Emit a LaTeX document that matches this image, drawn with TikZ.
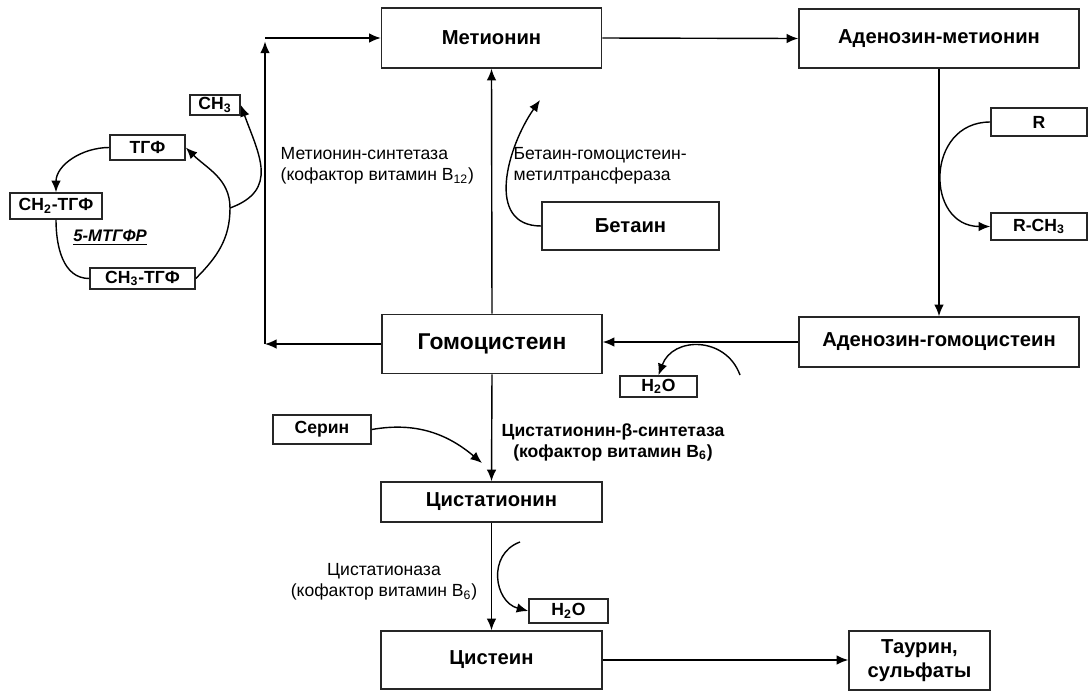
\documentclass[tikz,border=0pt]{standalone}
\usepackage{fontspec}
\setmainfont{Liberation Sans}
\usetikzlibrary{arrows.meta}

\begin{document}
\begin{tikzpicture}[
    line width=0.8pt,
    box/.style={rectangle, draw=black!85, line width=0.9pt, inner sep=0, align=center,
                font=\bfseries\fontsize{11.5}{13.5}\selectfont},
    smallbox/.style={rectangle, draw=black!85, line width=0.9pt, inner sep=0,
                font=\bfseries\fontsize{10}{11}\selectfont},
    enzyme/.style={align=left, inner sep=0, font=\fontsize{10}{12}\selectfont},
    arr/.style={-{Latex[length=2.3mm, width=1.9mm]}}
]
\useasboundingbox (0,0) rectangle (21.82,-13.82);

% ============================================
% CADENA PRINCIPAL
% ============================================
\node[box, minimum width=4.4cm, minimum height=1.2cm] (met) at (9.83,-0.76) {Метионин};
\node[box, minimum width=5.6cm, minimum height=1.18cm] (adomet) at (18.78,-0.77) {Аденозин-метионин};
\node[box, minimum width=5.6cm, minimum height=1.0cm] (adohcy) at (18.78,-6.84) {Аденозин-гомоцистеин};
\node[box, minimum width=4.4cm, minimum height=1.18cm, font=\bfseries\fontsize{13}{15}\selectfont]
    (homo) at (9.84,-6.88) {Гомоцистеин};
\node[box, minimum width=4.42cm, minimum height=0.8cm] (cysta) at (9.83,-10.04) {Цистатионин};
\node[box, minimum width=4.42cm, minimum height=1.16cm] (cys) at (9.83,-13.2) {Цистеин};
\node[box, minimum width=2.82cm, minimum height=1.18cm] (taur) at (18.39,-13.21) {Таурин,\\сульфаты};

% Sustratos laterales
\node[box, minimum width=3.54cm, minimum height=0.96cm] (bet) at (12.61,-4.52) {Бетаин};
\node[smallbox, minimum width=1.92cm, minimum height=0.56cm] (r) at (20.78,-2.44) {R};
\node[smallbox, minimum width=1.92cm, minimum height=0.54cm] (rch3) at (20.78,-4.53) {R-CH\textsubscript{3}};
\node[smallbox, minimum width=1.54cm, minimum height=0.42cm] (wata) at (13.17,-7.73) {H\textsubscript{2}O};
\node[smallbox, minimum width=1.96cm, minimum height=0.58cm] (ser) at (6.44,-8.59) {Серин};
\node[smallbox, minimum width=1.58cm, minimum height=0.48cm] (watb) at (11.37,-12.22) {H\textsubscript{2}O};

% ============================================
% CICLO DEL FOLATO
% ============================================
\node[smallbox, minimum width=1.0cm, minimum height=0.4cm] (ch3) at (4.3,-2.1) {CH\textsubscript{3}};
\node[smallbox, minimum width=1.5cm, minimum height=0.5cm] (thf) at (2.95,-2.95) {ТГФ};
\node[smallbox, minimum width=1.84cm, minimum height=0.52cm] (ch2thf) at (1.12,-4.12) {CH\textsubscript{2}-ТГФ};
\node[smallbox, minimum width=2.1cm, minimum height=0.42cm] (ch3thf) at (2.85,-5.57) {CH\textsubscript{3}-ТГФ};
\node[font=\bfseries\itshape\fontsize{9.5}{10}\selectfont] (mtgfr) at (2.2,-4.76) {\underline{5-МТГФР}};

\coordinate (cyc) at (4.6,-4.16);
\coordinate (lt) at (5.3,-0.76);
\coordinate (lb) at (5.3,-6.88);

\draw (ch3thf.east) to[out=45, in=-90] (cyc);
\draw[arr] (cyc) to[out=90, in=-45] (thf.east);
\draw[arr] (thf.west) to[out=180, in=90] (ch2thf.north);
\draw (ch2thf.south) to[out=-90, in=180] (ch3thf.west);
\draw[arr] (cyc) to[out=20, in=-70, looseness=1.3] (ch3.east);

% ============================================
% FLECHAS
% ============================================
\draw[arr] (homo.west) -- (lb);
\draw[arr] (lb) -- ([yshift=-2pt]lt);
\draw[arr] (lt) -- (met.west);
\draw[arr] (homo.north) -- (met.south);
\draw[arr] (met.east) -- (adomet.west);
\draw[arr] (adomet.south) -- (adohcy.north);
\draw[arr] (adohcy.west) -- (adohcy.west -| homo.east);
\draw[arr] (homo.south) -- (cysta.north);
\draw[arr] (cysta.south) -- (cys.north);
\draw[arr] (cys.east) -- (cys.east -| taur.west);

% Flechas curvas
\coordinate (betend) at (10.8,-2.0);
\draw[arr] (bet.west) to[out=180, in=-125, looseness=1.15] (betend);
\draw[arr] (r.west) to[out=180, in=180, looseness=1.6] (rch3.west);
\coordinate (watastart) at (14.8,-7.5);
\draw[arr] (watastart) to[out=110, in=70, looseness=1.3] (wata.north);
\coordinate (serend) at (9.64,-9.26);
\draw[arr] (ser.east) to[out=10, in=140] (serend);
\coordinate (watbstart) at (10.4,-10.84);
\draw[arr] (watbstart) to[out=200, in=165, looseness=1.3] (watb.west);

% ============================================
% ENZIMAS
% ============================================
\node[enzyme, anchor=west] (ms) at (5.6,-3.32) {Метионин-синтетаза\\(кофактор витамин B\textsubscript{12})};
\node[enzyme, anchor=west] (bhmt) at (10.26,-3.32) {Бетаин-гомоцистеин-\\метилтрансфераза};
\node[enzyme, align=center, font=\bfseries\fontsize{10}{12}\selectfont] (cbs) at (12.26,-8.84)
    {Цистатионин-β-синтетаза\\(кофактор витамин B\textsubscript{6})};
\node[enzyme, align=center] (cgl) at (7.68,-11.64) {Цистатионаза\\(кофактор витамин B\textsubscript{6})};

\end{tikzpicture}
\end{document}
